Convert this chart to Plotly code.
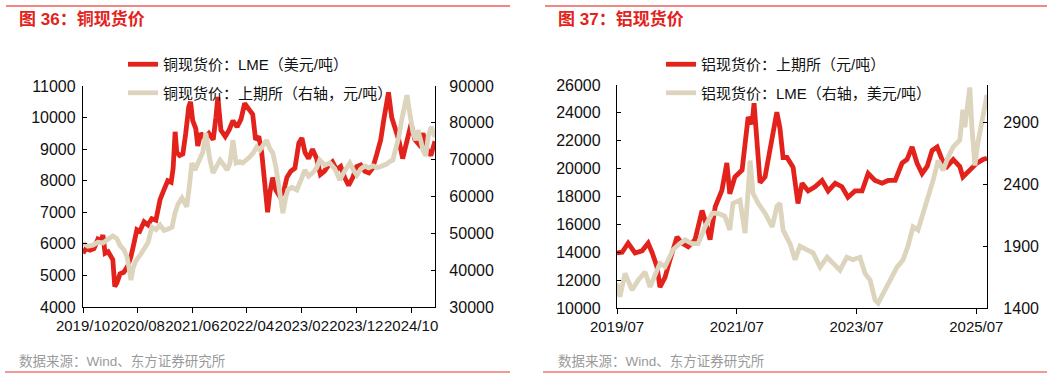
import plotly.graph_objects as go

W, H = 1061, 379

# ---------------- Copper (left chart) ----------------
cu_lme_dates = ["2019-10-01","2019-10-17","2019-11-09","2019-12-01","2019-12-23","2020-01-10","2020-01-20","2020-02-01","2020-02-18","2020-03-04","2020-03-15","2020-03-26","2020-04-06","2020-04-24","2020-05-15","2020-06-06","2020-06-24","2020-07-10","2020-07-27","2020-08-12","2020-09-05","2020-09-27","2020-10-18","2020-11-10","2020-12-03","2020-12-24","2021-01-15","2021-02-03","2021-02-14","2021-02-25","2021-03-06","2021-03-22","2021-04-09","2021-04-25","2021-05-12","2021-05-22","2021-06-03","2021-06-20","2021-07-01","2021-07-18","2021-08-10","2021-09-01","2021-09-25","2021-10-10","2021-10-21","2021-11-07","2021-12-01","2021-12-22","2022-01-13","2022-02-05","2022-02-27","2022-03-19","2022-04-10","2022-05-03","2022-05-19","2022-06-06","2022-06-22","2022-07-09","2022-07-25","2022-08-06","2022-08-22","2022-09-09","2022-10-01","2022-10-22","2022-11-09","2022-12-01","2022-12-24","2023-01-15","2023-02-01","2023-02-18","2023-03-10","2023-04-01","2023-04-24","2023-05-15","2023-06-06","2023-07-01","2023-07-21","2023-08-13","2023-09-05","2023-09-27","2023-10-19","2023-11-11","2023-12-03","2023-12-25","2024-01-17","2024-02-09","2024-03-01","2024-03-22","2024-04-15","2024-05-01","2024-05-17","2024-05-28","2024-06-15","2024-07-01","2024-07-24","2024-08-15","2024-09-07","2024-10-01","2024-10-22","2024-11-13","2024-12-06","2024-12-28","2025-01-19","2025-02-11"]
cu_lme = [5700,5850,5800,5850,6150,6100,6280,5700,5750,5600,5500,4650,4750,5050,5100,5300,5600,6000,6450,6400,6700,6600,6800,6750,7400,7700,8000,7950,8400,9550,8900,8800,8850,9500,10350,10500,9900,9650,9100,9500,9350,9500,9300,10000,10650,9600,9400,9600,9900,9700,9950,10450,10300,10100,9300,9400,8900,7800,7000,7600,8100,7700,7500,7650,8100,8300,8400,9200,9350,8900,8700,9000,8700,8200,8300,8500,8600,8350,8450,8100,7850,8100,8450,8500,8300,8250,8400,8800,9300,9900,10450,10800,10000,9700,9300,8700,9300,9800,9300,9150,9500,9000,8800,9250]

cu_shfe_dates = ["2019-10-01","2019-10-28","2019-11-25","2019-12-23","2020-01-20","2020-02-17","2020-03-15","2020-04-07","2020-04-23","2020-05-16","2020-06-02","2020-06-12","2020-06-24","2020-07-05","2020-07-21","2020-08-13","2020-09-05","2020-09-27","2020-10-19","2020-11-11","2020-12-03","2020-12-25","2021-01-17","2021-02-08","2021-02-24","2021-03-12","2021-04-04","2021-04-20","2021-05-01","2021-05-18","2021-05-29","2021-06-15","2021-07-12","2021-07-29","2021-08-15","2021-08-26","2021-09-07","2021-09-24","2021-10-10","2021-11-02","2021-11-24","2021-12-11","2021-12-27","2022-01-13","2022-01-30","2022-02-20","2022-03-08","2022-03-31","2022-04-16","2022-05-08","2022-05-25","2022-06-11","2022-07-03","2022-07-20","2022-08-06","2022-08-23","2022-09-09","2022-09-20","2022-10-07","2022-10-18","2022-11-04","2022-11-15","2022-12-07","2023-01-04","2023-01-27","2023-02-17","2023-03-10","2023-04-02","2023-04-24","2023-05-11","2023-06-08","2023-07-06","2023-08-03","2023-08-31","2023-09-28","2023-10-26","2023-11-17","2023-12-04","2023-12-26","2024-01-18","2024-02-09","2024-03-02","2024-03-29","2024-04-26","2024-05-18","2024-06-04","2024-06-21","2024-07-02","2024-07-24","2024-08-10","2024-08-27","2024-09-08","2024-09-19","2024-09-30","2024-10-11","2024-10-27","2024-11-08","2024-11-25","2024-12-06","2024-12-22","2025-01-03","2025-01-20","2025-02-11"]
cu_shfe = [47400,46500,46800,47600,47400,48200,49300,48500,46800,45500,43600,41000,37300,40500,42500,44000,45800,47500,51700,51000,52300,50800,51200,51700,55500,57800,59600,58000,57200,64000,69100,67200,70700,72000,77200,73000,69900,66400,68000,69900,68500,67200,69000,75300,69100,69500,69100,70000,70700,72000,73400,72600,74000,75300,73000,71800,68000,64500,60000,55500,60000,61800,62500,61800,64500,67200,65500,66400,67800,69900,68500,69100,67500,64500,67000,69100,67000,65800,67500,68300,67800,68300,67800,68300,68800,69500,69900,72000,76000,81000,85000,87500,84000,80000,77500,75300,78000,75000,72500,71000,76000,78900,76100]

cu_x_range = ["2019-10-01", "2025-02-11"]
cu_x_ticks = ["2019-10-01","2020-08-01","2021-06-01","2022-04-01","2023-02-01","2023-12-01","2024-10-01"]

# ---------------- Aluminium (right chart) ----------------
al_shfe_dates = ["2019-07-01","2019-08-01","2019-09-07","2019-10-19","2019-12-01","2020-01-07","2020-02-01","2020-03-01","2020-03-19","2020-04-19","2020-05-19","2020-07-01","2020-08-01","2020-09-07","2020-10-19","2020-12-01","2020-12-19","2021-01-19","2021-02-19","2021-04-01","2021-05-01","2021-05-19","2021-06-19","2021-08-02","2021-09-08","2021-10-02","2021-10-14","2021-11-02","2021-11-20","2021-12-20","2022-02-02","2022-03-02","2022-03-21","2022-04-09","2022-05-03","2022-06-09","2022-07-09","2022-08-03","2022-09-09","2022-10-21","2022-12-03","2023-01-09","2023-02-21","2023-04-03","2023-05-10","2023-06-22","2023-08-04","2023-09-10","2023-10-22","2023-12-04","2024-01-10","2024-02-22","2024-04-04","2024-05-04","2024-06-04","2024-07-04","2024-08-04","2024-09-04","2024-10-04","2024-11-04","2024-12-04","2025-01-04","2025-02-10","2025-03-22","2025-04-10","2025-05-22","2025-07-04","2025-08-10","2025-09-04"]
al_shfe = [13950,14000,14650,13950,14100,14650,13950,12950,11500,12200,13450,15100,14650,14400,14900,17000,16300,14900,17250,18450,20400,18200,19400,19900,23700,23200,24700,21500,19000,19400,22250,24050,22900,20800,20800,20100,17500,18950,18400,18700,19150,18400,18950,18700,17950,18400,18400,19650,19150,18950,19150,19150,20400,20650,21550,20400,19650,20150,21300,21550,20650,20150,20650,20150,19400,19900,20400,20650,20750]

al_lme_dates = ["2019-07-01","2019-07-19","2019-08-19","2019-10-01","2019-11-07","2019-12-19","2020-01-19","2020-02-19","2020-03-19","2020-04-19","2020-05-19","2020-06-07","2020-07-19","2020-08-19","2020-10-01","2020-11-07","2020-12-19","2021-02-01","2021-03-07","2021-04-19","2021-05-19","2021-06-07","2021-07-20","2021-08-20","2021-09-08","2021-09-20","2021-10-08","2021-11-08","2021-12-20","2022-02-02","2022-03-02","2022-03-21","2022-04-09","2022-05-21","2022-06-21","2022-07-21","2022-09-03","2022-10-09","2022-11-21","2023-01-03","2023-02-09","2023-03-22","2023-05-03","2023-06-09","2023-07-22","2023-08-22","2023-09-22","2023-10-22","2023-11-10","2023-12-10","2024-01-22","2024-03-04","2024-04-10","2024-05-10","2024-06-10","2024-07-10","2024-08-10","2024-09-10","2024-10-10","2024-11-10","2024-12-10","2025-01-10","2025-02-10","2025-03-22","2025-04-10","2025-04-22","2025-05-10","2025-05-22","2025-06-04","2025-06-22","2025-07-10","2025-08-04","2025-08-22","2025-09-04"]
al_lme = [1600,1490,1680,1545,1625,1690,1570,1680,1760,1735,1810,1870,1920,1950,1920,1920,2055,2165,2165,2140,2030,2245,2270,2005,2350,2590,2325,2245,2165,2055,2220,2245,2030,1920,1790,1900,1870,1845,1730,1810,1760,1705,1810,1790,1810,1680,1625,1465,1440,1520,1625,1730,1790,1900,2055,2030,2165,2295,2430,2590,2510,2620,2700,2755,3000,2860,3050,3180,2860,2550,2730,2915,3075,3120]

al_x_range = ["2019-07-01", "2025-09-04"]
al_x_ticks = ["2019-07-01","2021-07-01","2023-07-01","2025-07-01"]

RED = "#E3221B"
BEIGE = "#DDD4BD"
FONT = "Liberation Sans, Arial, Noto Sans CJK SC, sans-serif"


def px(x):
    return x / W


def py(y):
    return 1 - y / H


fig = go.Figure()

fig.add_trace(go.Scatter(x=cu_lme_dates, y=cu_lme, mode="lines",
                         name="铜现货价：LME（美元/吨）",
                         line=dict(color=RED, width=4.8),
                         xaxis="x", yaxis="y", legend="legend", legendgroup="a"))
fig.add_trace(go.Scatter(x=cu_shfe_dates, y=cu_shfe, mode="lines",
                         name="铜现货价：上期所（右轴，元/吨）",
                         line=dict(color=BEIGE, width=4.8),
                         xaxis="x", yaxis="y2", legend="legend", legendgroup="b"))
fig.add_trace(go.Scatter(x=al_shfe_dates, y=al_shfe, mode="lines",
                         name="铝现货价：上期所（元/吨）",
                         line=dict(color=RED, width=4.8),
                         xaxis="x2", yaxis="y3", legend="legend2", legendgroup="c"))
fig.add_trace(go.Scatter(x=al_lme_dates, y=al_lme, mode="lines",
                         name="铝现货价：LME（右轴，美元/吨）",
                         line=dict(color=BEIGE, width=4.8),
                         xaxis="x2", yaxis="y4", legend="legend2", legendgroup="d"))

axis_common = dict(showline=True, linecolor="black", linewidth=1.3, showgrid=False,
                   zeroline=False, tickcolor="black", automargin=False)
yfont = dict(size=16, color="#111")
xfont = dict(size=15, color="#111")

fig.update_layout(
    width=W, height=H, autosize=False,
    margin=dict(l=0, r=0, t=0, b=0, autoexpand=False),
    paper_bgcolor="white", plot_bgcolor="white",
    font=dict(family=FONT, color="#111"),
    xaxis=dict(domain=[px(83), px(435)], anchor="y", type="date", range=cu_x_range,
               tickvals=cu_x_ticks, tickformat="%Y/%m", ticks="outside", ticklen=5,
               tickangle=0, tickfont=xfont, **axis_common),
    yaxis=dict(domain=[py(307), py(86)], anchor="x", range=[4000, 11000], dtick=1000,
               tick0=4000, tickformat="d", ticks="inside", ticklen=4,
               ticklabelstandoff=3, tickfont=yfont, **axis_common),
    yaxis2=dict(overlaying="y", side="right", anchor="x", range=[30000, 90000],
                dtick=10000, tick0=30000, tickformat="d", ticks="inside", ticklen=4,
                ticklabelstandoff=10, tickfont=yfont, **axis_common),
    xaxis2=dict(domain=[px(617), px(987)], anchor="y3", type="date", range=al_x_range,
                tickvals=al_x_ticks, tickformat="%Y/%m", ticks="outside", ticklen=5,
                tickangle=0, tickfont=xfont, **axis_common),
    yaxis3=dict(domain=[py(308), py(85)], anchor="x2", range=[10000, 26000], dtick=2000,
                tick0=10000, tickformat="d", ticks="inside", ticklen=4,
                ticklabelstandoff=12, tickfont=yfont, **axis_common),
    yaxis4=dict(overlaying="y3", side="right", anchor="x2", range=[1400, 3200],
                tickvals=[1400, 1900, 2400, 2900], tickformat="d", ticks="inside",
                ticklen=4, ticklabelstandoff=12, tickfont=yfont, **axis_common),
    legend=dict(x=px(123), y=py(48), xanchor="left", yanchor="top",
                bgcolor="rgba(0,0,0,0)", font=dict(size=15, color="#111"),
                tracegroupgap=6, borderwidth=0),
    legend2=dict(x=px(661), y=py(48), xanchor="left", yanchor="top",
                 bgcolor="rgba(0,0,0,0)", font=dict(size=15, color="#111"),
                 tracegroupgap=6, borderwidth=0),
    showlegend=True,
)

# Titles
fig.add_annotation(text="<b>图 36：铜现货价</b>", x=px(17), y=py(19), xref="paper", yref="paper",
                   xanchor="left", yanchor="middle", showarrow=False,
                   font=dict(size=17, color="#E3221B"))
fig.add_annotation(text="<b>图 37：铝现货价</b>", x=px(556), y=py(19), xref="paper", yref="paper",
                   xanchor="left", yanchor="middle", showarrow=False,
                   font=dict(size=17, color="#E3221B"))
# Sources
for sx in (17, 556):
    fig.add_annotation(text="数据来源：Wind、东方证券研究所", x=px(sx), y=py(361),
                       xref="paper", yref="paper", xanchor="left", yanchor="middle",
                       showarrow=False, font=dict(size=13.5, color="#9a9a9a"))

# Decorative rules
for x0, x1 in ((6, 510), (545, 1047)):
    fig.add_shape(type="line", xref="paper", yref="paper", x0=px(x0), x1=px(x1),
                  y0=py(6), y1=py(6), line=dict(color="#F08783", width=2))
for x0, x1 in ((5, 510), (543, 1047)):
    fig.add_shape(type="line", xref="paper", yref="paper", x0=px(x0), x1=px(x1),
                  y0=py(372), y1=py(372), line=dict(color="#E8322D", width=1.2))

fig.write_html("out.html",
               config={"displayModeBar": False},
               post_script="document.body.style.margin='0';document.body.style.overflow='hidden';")
